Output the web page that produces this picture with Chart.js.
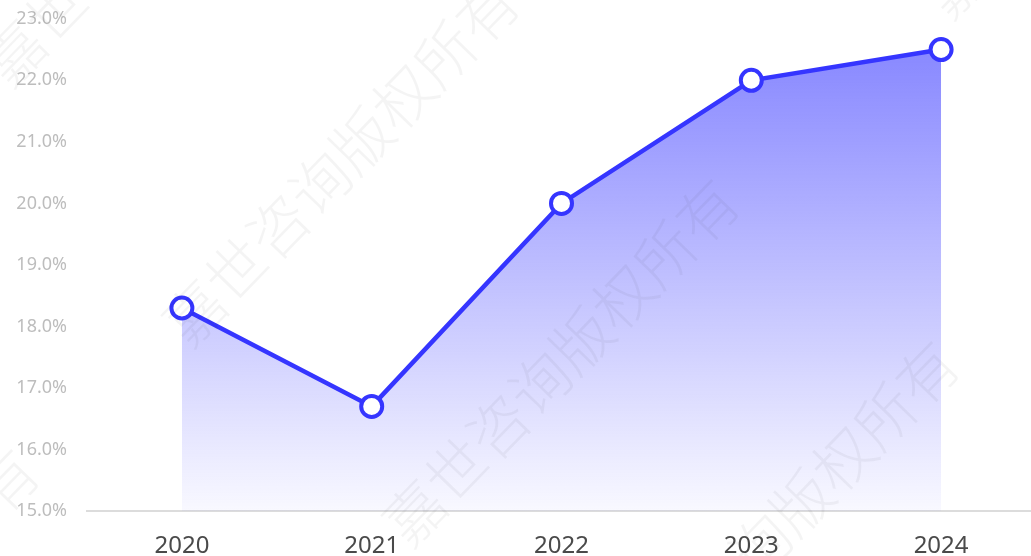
<!DOCTYPE html>
<html>
<head>
<meta charset="utf-8">
<script src="https://cdn.jsdelivr.net/npm/chart.js@4"></script>
<style>
  html, body { margin: 0; padding: 0; background: #fff; overflow: hidden; }
  #wrap { position: relative; width: 1036px; height: 568px; margin-top: -12px; }
</style>
</head>
<body>
<div id="wrap"><canvas id="chart"></canvas></div>
<script>
const years = ["2020", "2021", "2022", "2023", "2024"]
const shares = [18.3, 16.7, 20.0, 22.0, 22.5]
const yTicks = [15, 16, 17, 18, 19, 20, 21, 22, 23]

const watermarkText = "嘉世咨询版权所有"
const watermarkSpots = [[190, 362], [410, 562], [630, 724], [-290, 832], [10, 102], [950, 34]]

const watermark = {
  id: "watermark",
  afterDraw(chart) {
    const ctx = chart.ctx
    ctx.save()
    ctx.font = "300 60px 'Noto Sans CJK SC'"
    ctx.fillStyle = "rgba(0, 0, 0, 0.045)"
    watermarkSpots.forEach(([x, y]) => {
      ctx.save()
      ctx.translate(x, y)
      ctx.rotate(-Math.PI * 0.255)
      ctx.fillText(watermarkText, 0, 0)
      ctx.restore()
    })
    ctx.restore()
  }
}

const ctx = document.getElementById("chart")

new Chart(ctx, {
  type: "line",
  data: {
    labels: years,
    datasets: [{
      data: shares,
      borderColor: "#3535ff",
      borderWidth: 4.5,
      tension: 0,
      fill: "start",
      backgroundColor: (c) => {
        const area = c.chart.chartArea
        if (!area) return "rgba(51,51,255,0.3)"
        const g = c.chart.ctx.createLinearGradient(0, area.top, 0, area.bottom)
        g.addColorStop(0, "rgba(51, 51, 255, 0.62)")
        g.addColorStop(1, "rgba(51, 51, 255, 0.03)")
        return g
      },
      pointRadius: 10.5,
      pointHoverRadius: 10.5,
      pointBorderWidth: 4,
      pointBorderColor: "#3535ff",
      pointBackgroundColor: "#ffffff",
      clip: false
    }]
  },
  options: {
    responsive: true,
    maintainAspectRatio: false,
    animation: false,
    layout: { autoPadding: false, padding: { top: 5, left: 0, right: 0, bottom: 0 } },
    plugins: {
      legend: { display: false },
      tooltip: { enabled: false }
    },
    scales: {
      x: {
        offset: true,
        grid: { display: false, drawTicks: false },
        border: { display: true, color: "#dcdcdc", width: 2 },
        ticks: {
          padding: 21,
          color: "#4a4a4a",
          font: { family: "'Noto Sans', 'Open Sans', sans-serif", size: 24 }
        },
        afterFit: (scale) => { scale.height = 45 }
      },
      y: {
        min: 15,
        max: 23,
        afterBuildTicks: (scale) => { scale.ticks = yTicks.map(v => ({ value: v })) },
        grid: { display: false, drawTicks: false },
        border: { display: false },
        ticks: {
          padding: 20,
          color: "#bdbdbd",
          font: { family: "'Noto Sans', 'Open Sans', sans-serif", size: 18 },
          callback: (v) => v.toFixed(1) + "%"
        },
        afterFit: (scale) => { scale.width = 87 }
      }
    }
  },
  plugins: [watermark]
})
</script>
</body>
</html>
